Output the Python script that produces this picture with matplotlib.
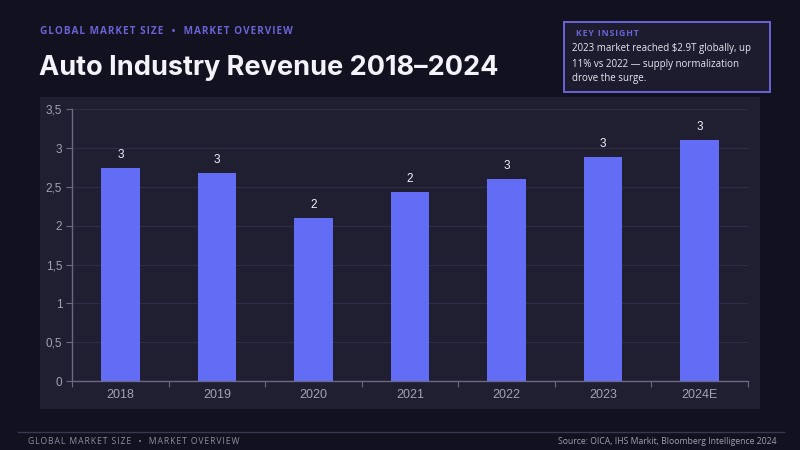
import matplotlib
matplotlib.use("Agg")
import matplotlib.pyplot as plt
from matplotlib.patches import Rectangle
from matplotlib.ticker import FuncFormatter, FixedLocator
import numpy as np

categories = ["2018", "2019", "2020", "2021", "2022", "2023", "2024E"]
revenue = [2.74, 2.68, 2.10, 2.44, 2.60, 2.89, 3.11]
y_ticks = [0, 0.5, 1, 1.5, 2, 2.5, 3, 3.5]

title = "Auto Industry Revenue 2018\u20132024"
kicker = "GLOBAL MARKET SIZE  \u2022  MARKET OVERVIEW"
insight_head = "KEY INSIGHT"
insight_lines = ["2023 market reached $2.9T globally, up",
                 "11% vs 2022 \u2014 supply normalization",
                 "drove the surge."]
footer_left = "GLOBAL MARKET SIZE  \u2022  MARKET OVERVIEW"
footer_right = "Source: OICA, IHS Markit, Bloomberg Intelligence 2024"

BG = "#12111f"
PANEL = "#201e31"
BAR = "#636cf5"
ACCENT = "#6a63d6"
GRID = "#2f2d44"
TICK = "#a3a1b3"
SPINE = "#6c6a80"

W, H = 800, 450
fig = plt.figure(figsize=(8, 4.5), dpi=100, facecolor=BG)

def fx(px):
    return px / W

def fy(py):
    return 1 - py / H

def spaced(s, sep="\u200a"):
    return sep.join(list(s))

# panel
fig.patches.append(Rectangle((fx(40), fy(409)), fx(720), (409 - 97) / H,
                             transform=fig.transFigure, facecolor=PANEL,
                             edgecolor="none", zorder=-10))

# header
fig.text(fx(40), fy(31), spaced(kicker), color=ACCENT, fontsize=7.2,
         fontweight="bold", family=["Open Sans", "DejaVu Sans"], va="center", ha="left")
fig.text(fx(39), fy(68), title, color="#f4f3fb", fontsize=19.5,
         fontweight="bold", family=["Inter", "DejaVu Sans"], va="center", ha="left")

# insight box
fig.patches.append(Rectangle((fx(564), fy(92)), fx(206), (92 - 22) / H,
                             transform=fig.transFigure, facecolor="#1d1b2e",
                             edgecolor=ACCENT, linewidth=1.4, zorder=1))
fig.text(fx(576), fy(33), spaced(insight_head), color=ACCENT, fontsize=6.3,
         fontweight="bold", family=["Open Sans", "DejaVu Sans"], va="center", ha="left")
for i, line in enumerate(insight_lines):
    fig.text(fx(572), fy(49 + i * 15), line, color="#e8e7f2", fontsize=7.0,
             family=["Open Sans", "DejaVu Sans"], va="center", ha="left")

# footer
fig.add_artist(plt.Line2D([fx(18), fx(784)], [fy(432), fy(432)],
                          transform=fig.transFigure, color="#3a3850", linewidth=1))
fig.text(fx(28), fy(441), spaced(footer_left), color="#8f8da0", fontsize=6.2,
         family=["Open Sans", "DejaVu Sans"], va="center", ha="left")
fig.text(fx(776), fy(441), footer_right, color="#a09eb0", fontsize=6.2,
         family=["Open Sans", "DejaVu Sans"], va="center", ha="right")

# chart
ax = fig.add_axes([fx(72), fy(381), fx(676), (381 - 109.3) / H])
ax.set_facecolor("none")
x = np.arange(len(categories))
bars = ax.bar(x, revenue, width=0.4, color=BAR, zorder=3)
for xi, v in zip(x, revenue):
    ax.text(xi, v + 0.09, f"{round(v):d}", ha="center", va="bottom",
            color="#f0f0f6", fontsize=8.5, family=["Liberation Sans", "DejaVu Sans"])

ax.set_xlim(-0.5, len(categories) - 0.5)
ax.set_ylim(0, 3.5)
ax.set_yticks(y_ticks)
ax.yaxis.set_major_formatter(FuncFormatter(lambda v, p: (f"{v:g}").replace(".", ",")))
ax.xaxis.set_major_locator(FixedLocator(np.arange(-0.5, len(categories), 1.0)))
ax.set_xticklabels([])
ax.set_xticks(x, minor=True)
ax.set_xticklabels(categories, minor=True)
ax.tick_params(axis="x", which="minor", length=0, pad=6, labelsize=9, labelcolor=TICK)
ax.tick_params(axis="x", which="major", length=4, color=SPINE, direction="out")
ax.tick_params(axis="y", length=4, color=SPINE, labelsize=8.5, labelcolor=TICK, pad=3)
for lab in ax.get_xticklabels(minor=True) + ax.get_yticklabels():
    lab.set_family(["Liberation Sans", "DejaVu Sans"])

ax.grid(axis="y", color=GRID, linewidth=0.9, zorder=0)
ax.set_axisbelow(True)
for s in ["top", "right"]:
    ax.spines[s].set_visible(False)
for s in ["left", "bottom"]:
    ax.spines[s].set_color(SPINE)
    ax.spines[s].set_linewidth(1)

fig.savefig("out.png", dpi=100, facecolor=BG)
